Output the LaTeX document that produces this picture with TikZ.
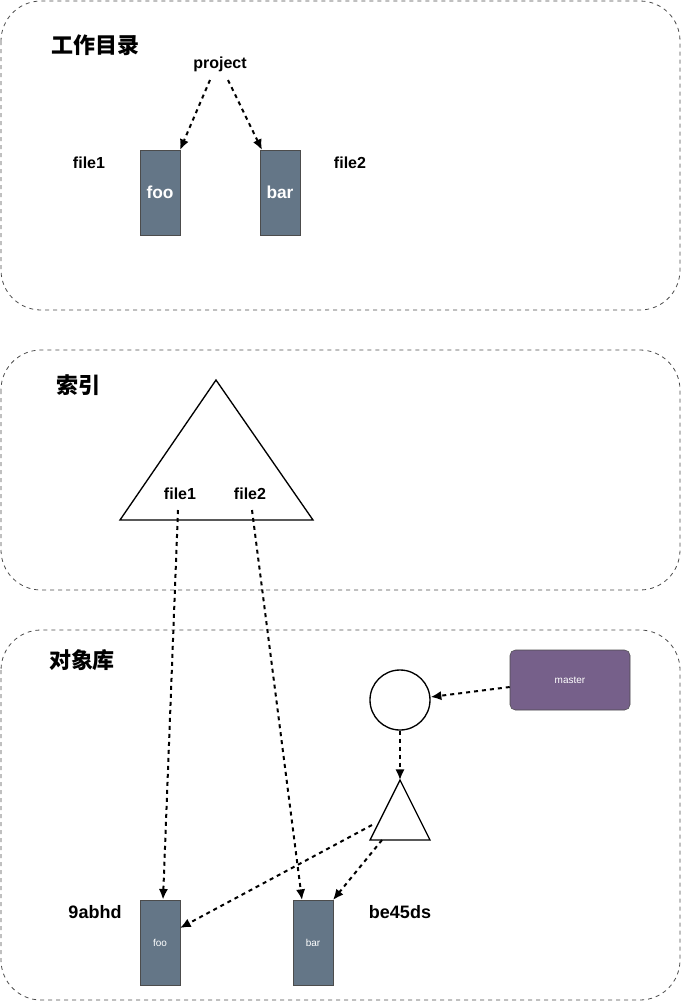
\documentclass[tikz,border=0pt]{standalone}
\usepackage{fontspec}
\setmainfont{Liberation Sans}
\newfontfamily\cjk{Noto Sans CJK SC}
\begin{document}
\begin{tikzpicture}[x=0.75pt,y=-0.75pt,
  box/.style={draw=black!70,dashed,rounded corners=30pt,line width=0.6pt},
  arr/.style={dashed,line width=1.5pt,-{Latex[length=8pt,width=7pt]}},
  blob/.style={draw=black!70,fill=slate,minimum width=30pt,minimum height=64pt,inner sep=0pt,text=white,font=\bfseries},
  lbl/.style={font=\bfseries\fontsize{12}{14}\selectfont},
  ttl/.style={font=\cjk\bfseries\fontsize{16.5}{18}\selectfont}]
\usetikzlibrary{arrows.meta}
\definecolor{slate}{HTML}{647687}
\definecolor{purp}{HTML}{76608A}
\useasboundingbox (0,0) rectangle (681,1001);
\draw[box] (1,1) rectangle (680,310);
\draw[box] (1,350) rectangle (680,590);
\draw[box] (1,630) rectangle (680,1000);
\node[ttl] (t1) at (95,45) {工作目录};
\node[ttl] (t2) at (78,385) {索引};
\node[ttl] (t3) at (82,660) {对象库};
\node[lbl] (proj) at (220,64) {project};
\node[blob,font=\bfseries\fontsize{13}{15}\selectfont] (foo) at (160,192.5) {foo};
\node[blob,font=\bfseries\fontsize{13}{15}\selectfont] (bar) at (280,192.5) {bar};
\node[lbl] (f1) at (89,163) {file1};
\node[lbl] (f2) at (350,163) {file2};
\coordinate (p1) at (210,80); \coordinate (p2) at (228,80);
\coordinate (fooT) at (180,150); \coordinate (barT) at (262,150);
\draw[arr] (p1) -- (fooT);
\draw[arr] (p2) -- (barT);
\draw[line width=1pt] (216,380) coordinate (tA) -- (313,520) -- (120,520) -- cycle;
\node[lbl] (i1) at (180,494) {file1};
\node[lbl] (i2) at (250,494) {file2};
\node[blob,font=\fontsize{7.5}{9}\selectfont] (ofoo) at (160,942.5) {foo};
\node[blob,font=\fontsize{7.5}{9}\selectfont] (obar) at (313,942.5) {bar};
\node[font=\bfseries\fontsize{13.5}{16}\selectfont] (h1) at (95,912) {9abhd};
\node[font=\bfseries\fontsize{13.5}{16}\selectfont] (h2) at (400,912) {be45ds};
\coordinate (i1b) at (178,510); \coordinate (i2b) at (252,510);
\draw[arr] (i1b) -- (ofoo.north -| 163,0);
\draw[arr] (i2b) -- (302,900);
\node[draw,circle,line width=1pt,minimum size=45pt,inner sep=0pt] (c) at (400,700) {};
\node[draw=black!70,fill=purp,rounded corners=4pt,minimum width=90pt,minimum height=45pt,text=white,font=\fontsize{7.5}{9}\selectfont] (m) at (570,680) {master};
\draw[arr] (m.west |- 0,687) -- (c.east |- 0,697);
\draw[line width=1pt] (400,780) -- (430,840) -- (370,840) -- cycle;
\coordinate (tt) at (400,780);
\draw[arr] (c.south) -- (tt);
\draw[arr] (372,825) -- (180,928);
\draw[arr] (382,840) -- (333,900);
\end{tikzpicture}
\end{document}
